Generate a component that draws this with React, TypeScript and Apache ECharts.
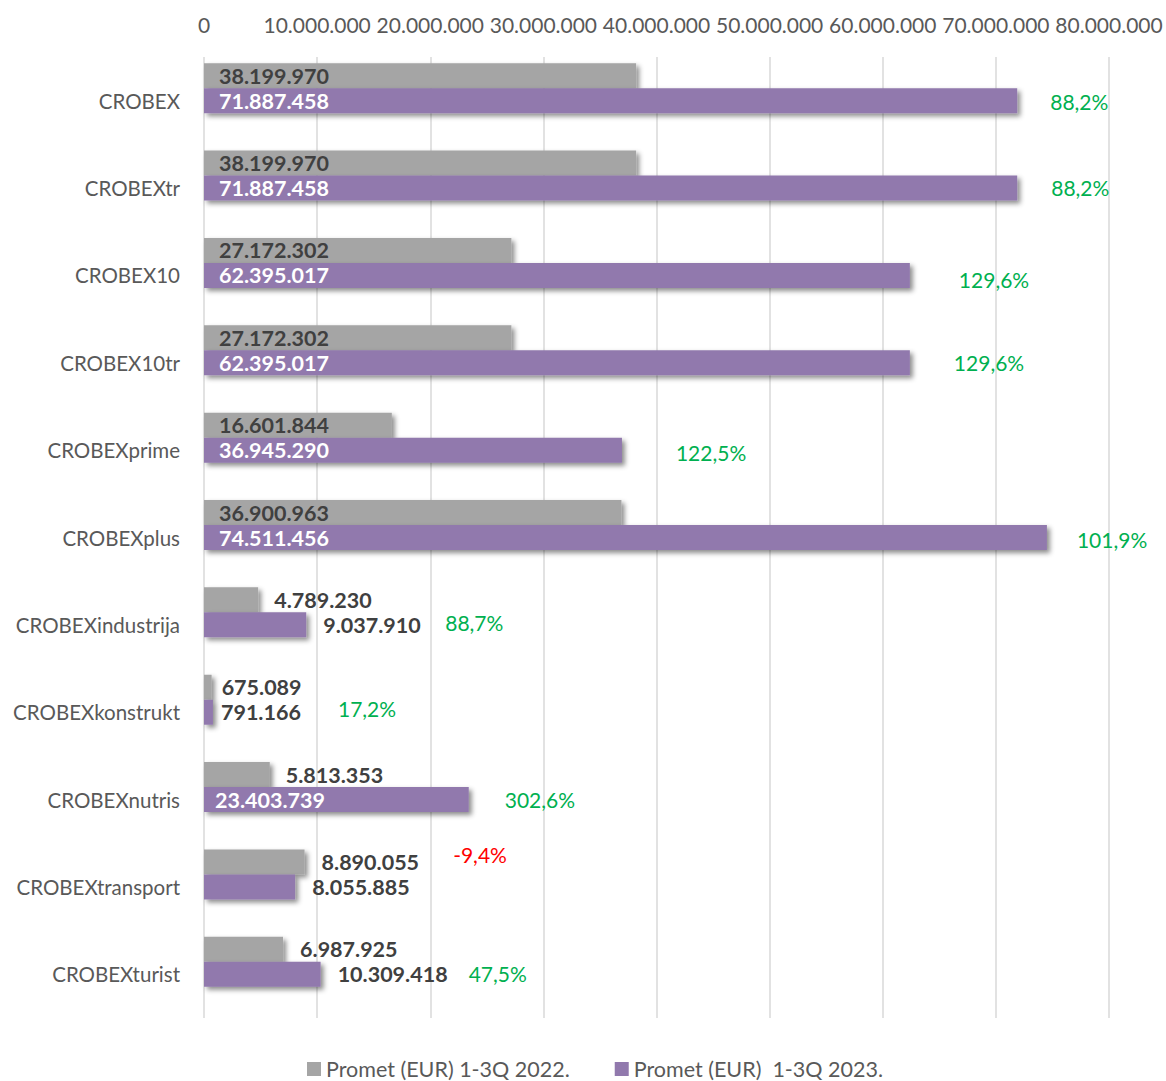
import React, { useEffect, useRef } from "react";
import * as echarts from "echarts";

// ---- data ----
const categories = [
  "CROBEX",
  "CROBEXtr",
  "CROBEX10",
  "CROBEX10tr",
  "CROBEXprime",
  "CROBEXplus",
  "CROBEXindustrija",
  "CROBEXkonstrukt",
  "CROBEXnutris",
  "CROBEXtransport",
  "CROBEXturist",
];
const promet2022 = [
  38199970, 38199970, 27172302, 27172302, 16601844, 36900963, 4789230, 675089,
  5813353, 8890055, 6987925,
];
const promet2023 = [
  71887458, 71887458, 62395017, 62395017, 36945290, 74511456, 9037910, 791166,
  23403739, 8055885, 10309418,
];
const seriesNames = ["Promet (EUR) 1-3Q 2022.", "Promet (EUR)  1-3Q 2023."];
const axisMin = 0;
const axisMax = 80000000;
const axisStep = 10000000;

// ---- label layout (styling only) ----
// value labels: "in" = inside the bar at its base, "out" = after the bar end
const label2022Pos = ["in", "in", "in", "in", "in", "in", "out", "out", "out", "out", "out"];
const label2022Dist = [15, 15, 15, 15, 15, 15, 16, 10, 16, 17, 17];
const label2023Pos = ["in", "in", "in", "in", "in", "in", "out", "out", "in", "out", "out"];
const label2023Dist = [15, 15, 15, 15, 15, 15, 17, 8, 11, 17, 17];
// percent-change labels: offset [dx, dy] from the 2023 bar end on the third slot
const pctOffset = [
  [33, -24], [34, -26], [49, -21], [44, -25], [54, -23], [30, -23.5],
  [139, -27], [125, -29], [36, -25], [158, -57], [148, -26],
];

const GRAY = "#A5A5A5";
const PURPLE = "#9179AD";
const FONT = "Lato";

const fmt = (n: number) => String(Math.round(n)).replace(/\B(?=(\d{3})+(?!\d))/g, ".");
const pct = (a: number, b: number) => ((b / a - 1) * 100).toFixed(1).replace(".", ",") + "%";

export default function App() {
  const ref = useRef<HTMLDivElement>(null);

  useEffect(() => {
    document.body.style.margin = "0";
    if (!ref.current) return;
    const chart = echarts.init(ref.current, undefined, { renderer: "svg" });

    const shadow = {
      shadowColor: "rgba(0,0,0,0.45)",
      shadowBlur: 5,
      shadowOffsetX: 3,
      shadowOffsetY: 3,
    };

    const valueLabel = (pos: string, dist: number, insideColor: string) =>
      pos === "in"
        ? {
            show: true,
            position: "insideLeft",
            distance: dist,
            color: insideColor,
            fontFamily: FONT,
            fontWeight: "bold",
            fontSize: 21.5,
            formatter: (p: any) => fmt(p.value),
          }
        : {
            show: true,
            position: "right",
            distance: dist,
            color: "#404040",
            fontFamily: FONT,
            fontWeight: "bold",
            fontSize: 21.5,
            formatter: (p: any) => fmt(p.value),
          };

    const data2022 = promet2022.map((v, i) => ({
      value: v,
      label: valueLabel(label2022Pos[i], label2022Dist[i], "#404040"),
    }));
    const data2023 = promet2023.map((v, i) => ({
      value: v,
      label: valueLabel(label2023Pos[i], label2023Dist[i], "#FFFFFF"),
    }));
    const dataPct = promet2023.map((v, i) => {
      const change = promet2023[i] / promet2022[i] - 1;
      return {
        value: v,
        label: {
          show: true,
          position: "right",
          distance: 0,
          offset: pctOffset[i],
          color: change < 0 ? "#FF0000" : "#00B050",
          fontFamily: FONT,
          fontSize: 21,
          formatter: () => pct(promet2022[i], promet2023[i]),
        },
      };
    });

    chart.setOption({
      animation: false,
      backgroundColor: "#FFFFFF",
      textStyle: { fontFamily: FONT },
      grid: { left: 204, right: 57, top: 57, bottom: 63, containLabel: false },
      legend: {
        data: seriesNames,
        left: 302,
        top: 1053,
        itemWidth: 14,
        itemHeight: 14,
        itemGap: 45,
        icon: "rect",
        textStyle: { color: "#595959", fontSize: 21.5, fontFamily: FONT },
      },
      xAxis: {
        type: "value",
        position: "top",
        min: axisMin,
        max: axisMax,
        interval: axisStep,
        axisLine: { show: false },
        axisTick: { show: false },
        axisLabel: {
          color: "#595959",
          fontSize: 21,
          fontFamily: FONT,
          margin: 22,
          formatter: (v: number) => fmt(v),
        },
        splitLine: { show: true, lineStyle: { color: "#D9D9D9", width: 1.5 } },
      },
      yAxis: {
        type: "category",
        inverse: true,
        data: categories,
        axisLine: { show: false },
        axisTick: { show: false },
        axisLabel: { color: "#595959", fontSize: 20.5, fontFamily: FONT, margin: 24 },
      },
      series: [
        {
          name: seriesNames[0],
          type: "bar",
          barWidth: 25,
          barGap: "0%",
          itemStyle: { color: GRAY, ...shadow },
          data: data2022,
        },
        {
          name: seriesNames[1],
          type: "bar",
          barWidth: 25,
          barGap: "0%",
          itemStyle: { color: PURPLE, ...shadow },
          data: data2023,
        },
        {
          name: "change",
          type: "bar",
          barWidth: 25,
          barGap: "0%",
          silent: true,
          itemStyle: { color: "rgba(0,0,0,0)" },
          data: dataPct,
        },
      ],
    });

    return () => chart.dispose();
  }, []);

  return <div ref={ref} style={{ width: 1166, height: 1081 }} />;
}
